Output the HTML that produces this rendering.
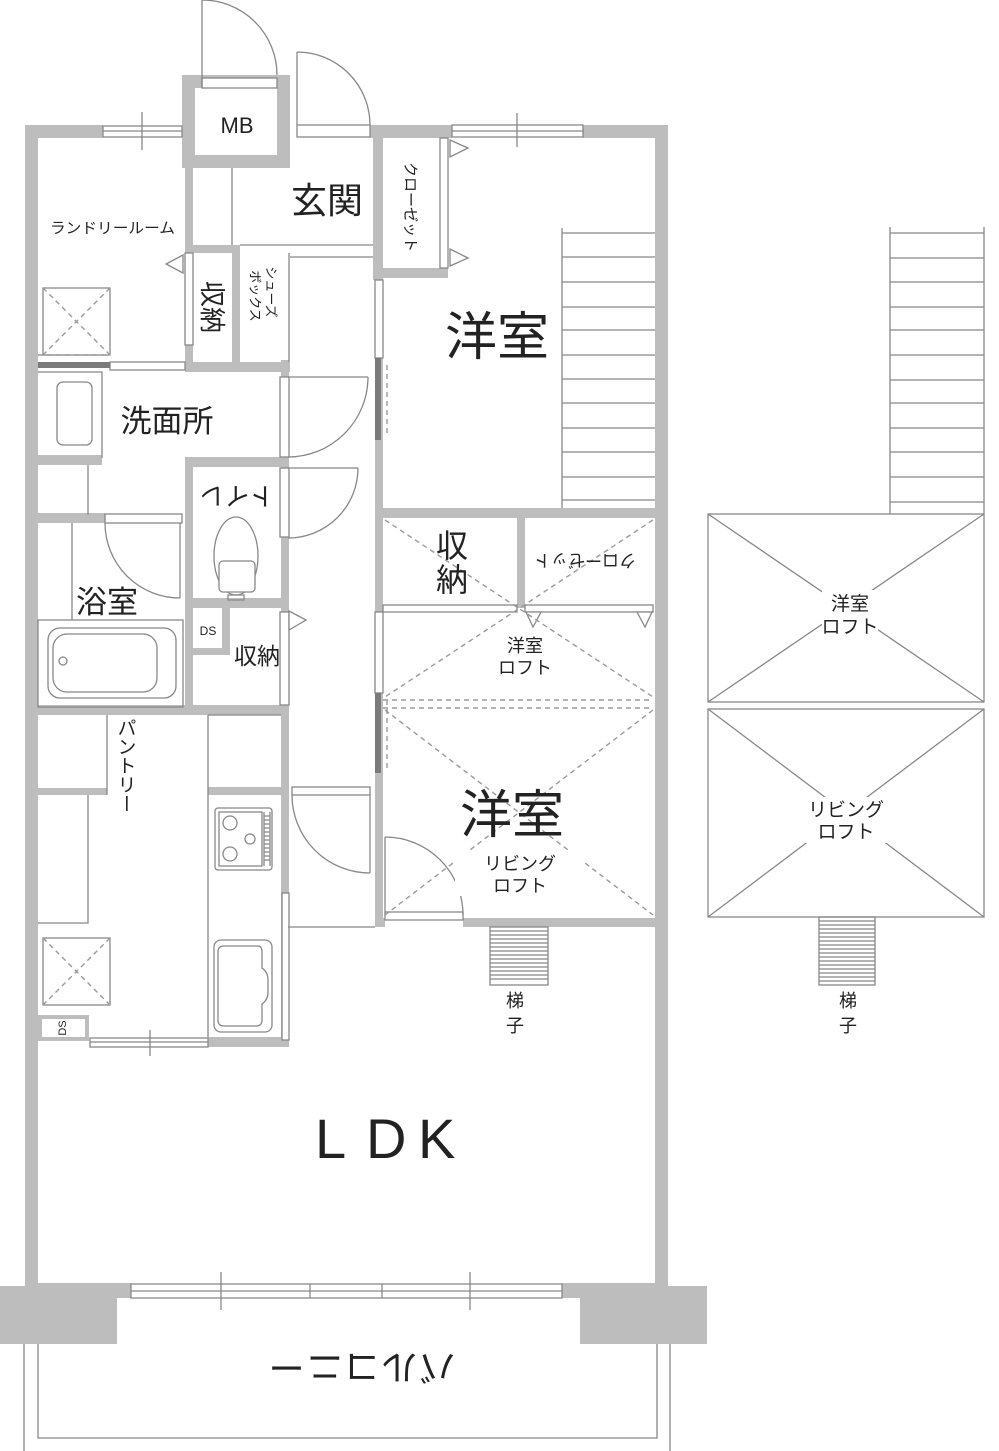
<!DOCTYPE html>
<html><head><meta charset="utf-8"><style>
html,body{margin:0;padding:0;background:#fff}
svg{display:block}
text{font-family:"Liberation Sans","Noto Sans CJK JP",sans-serif;fill:#222}
</style></head><body>
<svg width="999" height="1451" viewBox="0 0 999 1451" xmlns="http://www.w3.org/2000/svg">
<rect width="999" height="1451" fill="#fff"/>

<!-- walls -->
<g fill="#bdbdbd">
<rect x="25" y="125" width="78" height="13"/>
<rect x="25" y="125" width="13" height="1173"/>
<rect x="182" y="75" width="108" height="13"/>
<rect x="182" y="75" width="13" height="93"/>
<rect x="277" y="75" width="13" height="93"/>
<rect x="182" y="155" width="108" height="13"/>
<rect x="370" y="125" width="82" height="13"/>
<rect x="583" y="125" width="85" height="13"/>
<rect x="655" y="125" width="13" height="1173"/>
<rect x="25" y="1283" width="106" height="15"/>
<rect x="562" y="1283" width="106" height="15"/>
<rect x="0" y="1286" width="117" height="58"/>
<rect x="580" y="1286" width="127" height="58"/>
<rect x="373" y="125" width="10" height="155"/>
<rect x="373" y="268" width="75" height="10"/>
<rect x="375" y="278" width="8" height="649"/>
<rect x="383" y="508" width="285" height="10"/>
<rect x="517" y="518" width="8" height="90"/>
<rect x="463" y="918" width="205" height="9"/>
<rect x="375" y="918" width="10" height="9"/>
<rect x="185" y="168" width="8" height="204"/>
<rect x="185" y="245" width="55" height="8"/>
<rect x="232" y="245" width="8" height="117"/>
<rect x="185" y="362" width="105" height="10"/>
<rect x="281" y="360" width="8" height="687"/>
<rect x="38" y="455" width="64" height="10"/>
<rect x="38" y="513" width="67" height="10"/>
<rect x="185" y="457" width="104" height="10"/>
<rect x="185" y="457" width="8" height="258"/>
<rect x="185" y="598" width="104" height="10"/>
<rect x="222" y="608" width="8" height="47"/>
<rect x="185" y="648" width="45" height="7"/>
<rect x="38" y="705" width="251" height="10"/>
<rect x="38" y="788" width="69" height="7"/>
<rect x="208" y="787" width="81" height="8"/>
<rect x="208" y="1037" width="81" height="10"/>
</g>
<rect x="40" y="1017" width="47" height="22" fill="none" stroke="#bdbdbd" stroke-width="4"/>

<!-- door strips / windows -->
<g fill="#fff" stroke="#888" stroke-width="1.3">
<rect x="202" y="78" width="75" height="10"/>
<rect x="297" y="125" width="73" height="12"/>
<rect x="440" y="138" width="8" height="130"/>
<rect x="375" y="280" width="8" height="78"/>
<rect x="375" y="612" width="8" height="81"/>
<rect x="383" y="605" width="134" height="7"/>
<rect x="525" y="605" width="128" height="7"/>
<rect x="385" y="912" width="78" height="8"/>
<rect x="185" y="253" width="8" height="92"/>
<rect x="110" y="362" width="75" height="8"/>
<rect x="280" y="377" width="9" height="80"/>
<rect x="280" y="468" width="9" height="69"/>
<rect x="280" y="612" width="9" height="93"/>
<rect x="282" y="893" width="7" height="147"/>
<rect x="105" y="514" width="77" height="9"/>
<rect x="292" y="787" width="78" height="8"/>
<!-- windows -->
<rect x="103" y="126" width="79" height="11"/>
<rect x="452" y="125" width="131" height="12"/>
<rect x="131" y="1284" width="431" height="14"/>
<rect x="90" y="1038" width="118" height="9"/>
</g>
<g fill="#7a7a7a">
<rect x="375" y="358" width="6" height="82"/>
<rect x="375" y="693" width="6" height="80"/>
<rect x="38" y="362" width="72" height="6"/>
</g>

<!-- thin lines -->
<g fill="none" stroke="#888" stroke-width="1.3">
<path d="M103,131H182 M142,112V150 M452,131H583 M517,113V147"/>
<path d="M131,1291H562 M310,1284V1298 M382,1284V1298 M221,1272V1310 M470,1272V1310"/>
<path d="M90,1042H208 M150,1030V1056"/>
<!-- door arcs -->
<path d="M202,0V88 M202,0A75,75 0 0 1 277,75"/>
<path d="M297,52V125 M297,52A73,73 0 0 1 370,125"/>
<path d="M288,377H368 M368,377A80,80 0 0 1 288,457"/>
<path d="M288,468H358 M358,468A70,70 0 0 1 288,538"/>
<path d="M180,523V598 M105,523A75,75 0 0 0 180,598"/>
<path d="M370,795V873 M292,795A78,78 0 0 0 370,873"/>
<path d="M385,837V915 M385,837A78,78 0 0 1 463,915"/>
<!-- entry -->
<path d="M232,168V245 M240,245H373 M290,257H373 M289,253V362"/>
<!-- 洗面 -->
<path d="M38,372H102V458 M88,465V515"/>
<rect x="57" y="382" width="35" height="63" rx="6"/>
<!-- bath -->
<path d="M72,523V620"/>
<rect x="38" y="620" width="145" height="87"/>
<rect x="48" y="628" width="128" height="70" rx="12"/>
<rect x="53" y="634" width="104" height="58" rx="14"/>
<circle cx="63" cy="661" r="4"/>
<!-- toilet -->
<ellipse cx="236" cy="556" rx="22" ry="39"/>
<rect x="219" y="561" width="36" height="31" rx="4" fill="#fff"/>
<path d="M228,595h16v5h-16z"/>
<!-- kitchen -->
<path d="M107,715V795 M88,795V923H38 M208,715V1037 M208,715H281"/>
<rect x="215" y="808" width="57" height="62" rx="3"/>
<rect x="219" y="812" width="43" height="54"/>
<circle cx="230" cy="823" r="7"/>
<circle cx="250" cy="839" r="5"/>
<circle cx="230" cy="854" r="7"/>
<path d="M264,812V866 M270,812V866 M264,816h6 M264,820h6 M264,824h6 M264,828h6 M264,832h6 M264,836h6 M264,840h6 M264,844h6 M264,848h6 M264,852h6 M264,856h6 M264,860h6"/>
<rect x="214" y="940" width="58" height="92" rx="7"/>
<path d="M224,946H258Q262,946 262,952V968Q268,972 268,980V992Q268,1000 262,1004V1020Q262,1026 256,1026H224Q218,1026 218,1020V952Q218,946 224,946Z"/>
<!-- washing machine squares -->
<rect x="43" y="288" width="67" height="67"/>
<rect x="43" y="938" width="67" height="67"/>
<!-- corridor -->
<path d="M288,927H375"/>
<!-- stairs -->
<path d="M562,228V508 M562,233H655 M562,257H655 M562,282H655 M562,307H655 M562,330H655 M562,355H655 M562,379H655 M562,403H655 M562,428H655 M562,452H655 M562,477H655 M562,500H655"/>
<path d="M890,227V514 M984,227V514 M890,233H984 M890,258H984 M890,282H984 M890,307H984 M890,330H984 M890,355H984 M890,380H984 M890,403H984 M890,428H984 M890,452H984 M890,477H984 M890,502H984"/>
<!-- right loft boxes -->
<rect x="708" y="514" width="276" height="188"/>
<rect x="708" y="709" width="276" height="208"/>
<path d="M708,514L984,702 M984,514L708,702 M708,709L984,917 M984,709L708,917"/>
<!-- ladders -->
<rect x="490" y="927" width="58" height="58"/>
<path d="M490,931H548 M490,935H548 M490,939H548 M490,943H548 M490,947H548 M490,951H548 M490,955H548 M490,959H548 M490,963H548 M490,967H548 M490,971H548 M490,975H548 M490,979H548"/>
<rect x="819" y="917" width="56" height="68"/>
<path d="M819,921H875 M819,925H875 M819,929H875 M819,933H875 M819,937H875 M819,941H875 M819,945H875 M819,949H875 M819,953H875 M819,957H875 M819,961H875 M819,965H875 M819,969H875 M819,973H875 M819,977H875 M819,981H875"/>
<!-- balcony -->
<path d="M24,1344V1451 M670,1344V1451 M38,1344V1438H657V1344"/>
</g>

<!-- triangles -->
<g fill="#fff" stroke="#888" stroke-width="1.3">
<path d="M183,255L166,264L183,273Z"/>
<path d="M450,140L468,148L450,157Z"/>
<path d="M450,249L468,258L450,266Z"/>
<path d="M289,611L306,620L289,630Z"/>
<path d="M526,612L541,612L533,627Z"/>
<path d="M637,612L652,612L645,627Z"/>
</g>

<!-- dashed -->
<g fill="none" stroke="#9a9a9a" stroke-width="1.4" stroke-dasharray="5,4">
<path d="M385,520L653,697 M653,520L385,697"/>
<path d="M383,700H653 M383,708H653"/>
<path d="M385,710L653,915 M653,710L385,915"/>
<path d="M43,288L110,355 M110,288L43,355 M38,355H110"/>
<path d="M43,938L110,1005 M110,938L43,1005"/>
<path d="M387,365V435 M387,700V770"/>
</g>

<!-- label backgrounds -->
<g fill="#fff">
<rect x="497" y="633" width="56" height="46"/>
<rect x="455" y="850" width="130" height="46"/>
<rect x="822" y="590" width="56" height="48"/>
<rect x="805" y="797" width="82" height="46"/>
</g>

<!-- text -->
<text x="237" y="133" font-size="22" text-anchor="middle">MB</text>
<text x="327" y="213" font-size="36" text-anchor="middle">玄関</text>
<text x="50" y="233" font-size="15" textLength="125" lengthAdjust="spacingAndGlyphs">ランドリールーム</text>
<text x="497" y="355" font-size="52" text-anchor="middle">洋室</text>
<text x="167" y="432" font-size="31" text-anchor="middle">洗面所</text>
<text x="107" y="613" font-size="31" text-anchor="middle">浴室</text>
<text x="237" y="495" font-size="25" text-anchor="middle" dominant-baseline="central" transform="rotate(180 237 495)">トイレ</text>
<text x="208" y="635" font-size="12" text-anchor="middle">DS</text>
<text x="257" y="664" font-size="23" text-anchor="middle">収納</text>
<text x="212" y="307" font-size="26" text-anchor="middle" dominant-baseline="central" transform="rotate(90 212 307)">収納</text>
<text x="271" y="292" font-size="13" text-anchor="middle" dominant-baseline="central" transform="rotate(90 271 292)">シューズ</text>
<text x="255" y="296" font-size="13" text-anchor="middle" dominant-baseline="central" transform="rotate(90 255 296)">ボックス</text>
<text x="410" y="207" font-size="15" text-anchor="middle" dominant-baseline="central" transform="rotate(90 410 207)">クローゼット</text>
<text x="452" y="557" font-size="32" text-anchor="middle">収</text>
<text x="452" y="591" font-size="32" text-anchor="middle">納</text>
<text x="585" y="560" font-size="17" text-anchor="middle" dominant-baseline="central" transform="rotate(180 585 560)">クローゼット</text>
<text x="525" y="652" font-size="18" text-anchor="middle">洋室</text>
<text x="525" y="674" font-size="18" text-anchor="middle">ロフト</text>
<text x="512" y="833" font-size="52" text-anchor="middle">洋室</text>
<text x="520" y="870" font-size="18" text-anchor="middle">リビング</text>
<text x="520" y="892" font-size="18" text-anchor="middle">ロフト</text>
<text x="515" y="1007" font-size="18" text-anchor="middle">梯</text>
<text x="515" y="1032" font-size="18" text-anchor="middle">子</text>
<text x="850" y="610" font-size="19" text-anchor="middle">洋室</text>
<text x="850" y="633" font-size="19" text-anchor="middle">ロフト</text>
<text x="846" y="816" font-size="19" text-anchor="middle">リビング</text>
<text x="846" y="838" font-size="19" text-anchor="middle">ロフト</text>
<text x="848" y="1007" font-size="18" text-anchor="middle">梯</text>
<text x="848" y="1032" font-size="18" text-anchor="middle">子</text>
<text x="125" y="718" font-size="19" style="writing-mode:vertical-rl">パントリー</text>
<text x="63" y="1028" font-size="11" text-anchor="middle" dominant-baseline="central" transform="rotate(-90 63 1028)">DS</text>
<text x="315" y="1158" font-size="56">L</text>
<text x="366" y="1158" font-size="56">D</text>
<text x="418" y="1158" font-size="56">K</text>
<text x="362" y="1367" font-size="36" text-anchor="middle" dominant-baseline="central" textLength="187" lengthAdjust="spacing" transform="rotate(180 362 1367)">バルコニー</text>
</svg>
</body></html>
